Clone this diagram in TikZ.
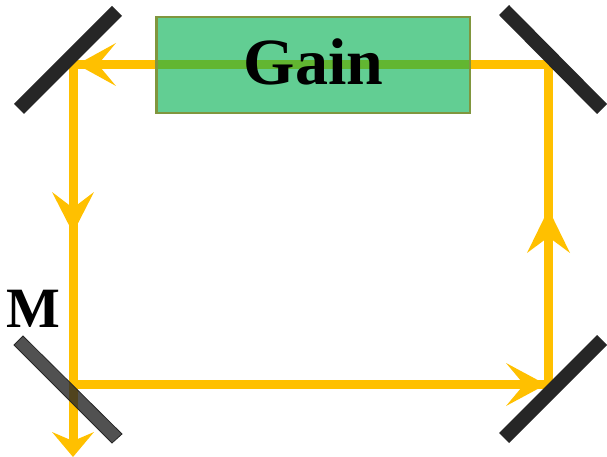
\documentclass[tikz,border=0pt]{standalone}
\usepackage{fontspec}
\setmainfont{Liberation Serif}
\definecolor{beam}{RGB}{255,192,0}
\definecolor{gainfill}{RGB}{0,176,80}
\definecolor{gainedge}{RGB}{128,150,62}
\definecolor{mirrordark}{RGB}{38,38,38}
\tikzset{
  beamline/.style={draw=beam,line width=9pt},
  beamhead/.style={fill=beam,draw=none},
  mirrorbar/.style={fill=mirrordark,draw=none},
  labeltext/.style={inner sep=0pt,text=black,anchor=base}
}
\begin{document}
\begin{tikzpicture}[x=1pt,y=-1pt]
\useasboundingbox (0,0) rectangle (607,457);
\coordinate (tl) at (73,64.5);
\coordinate (tr) at (548.5,64.5);
\coordinate (br) at (548.5,384.5);
\coordinate (bl) at (73,384.5);
\coordinate (out) at (73,445);
% beams
\draw[beamline] (tr) -- (tl) -- (out);
\draw[beamline] (bl) -- (br) -- (tr);
% arrowheads
\fill[beamhead] (77,64.5) -- (116,43) -- (98,64.5) -- (116,86) -- cycle;
\fill[beamhead] (73,233) -- (52,192) -- (73,208) -- (94,192) -- cycle;
\fill[beamhead] (548.5,209) -- (527,253) -- (548.5,237) -- (570,253) -- cycle;
\fill[beamhead] (546,384.5) -- (506,363) -- (524,384.5) -- (506,406) -- cycle;
\fill[beamhead] (73,457) -- (52,432) -- (73,441) -- (94,432) -- cycle;
% mirrors
\fill[mirrorbar] (112,6) -- (122,16) -- (24,114) -- (14,104) -- cycle;
\fill[mirrorbar] (509,5) -- (499,15) -- (597,114) -- (607,104) -- cycle;
\fill[mirrorbar] (597,335) -- (607,345) -- (509,443) -- (499,433) -- cycle;
\fill[mirrordark,fill opacity=0.8] (23,336) -- (122,434) -- (112,443) -- (14,345) -- cycle;
\draw[mirrordark,line width=0.8pt] (23,336) -- (122,434) -- (112,443) -- (14,345) -- cycle;
% gain medium
\node[fill=gainfill,fill opacity=0.615,draw=gainedge,draw opacity=1,line width=2.5pt,outer sep=0pt,minimum width=313.5pt,minimum height=96pt,inner sep=0pt,anchor=north west] (gainbox) at (156.25,17) {};
\node[labeltext,font=\fontsize{66}{66}\selectfont\bfseries] (gainlabel) at (313.5,85) {Gain};
\node[labeltext,font=\fontsize{57}{57}\selectfont\bfseries] (mlabel) at (33,327) {M};
\end{tikzpicture}
\end{document}
